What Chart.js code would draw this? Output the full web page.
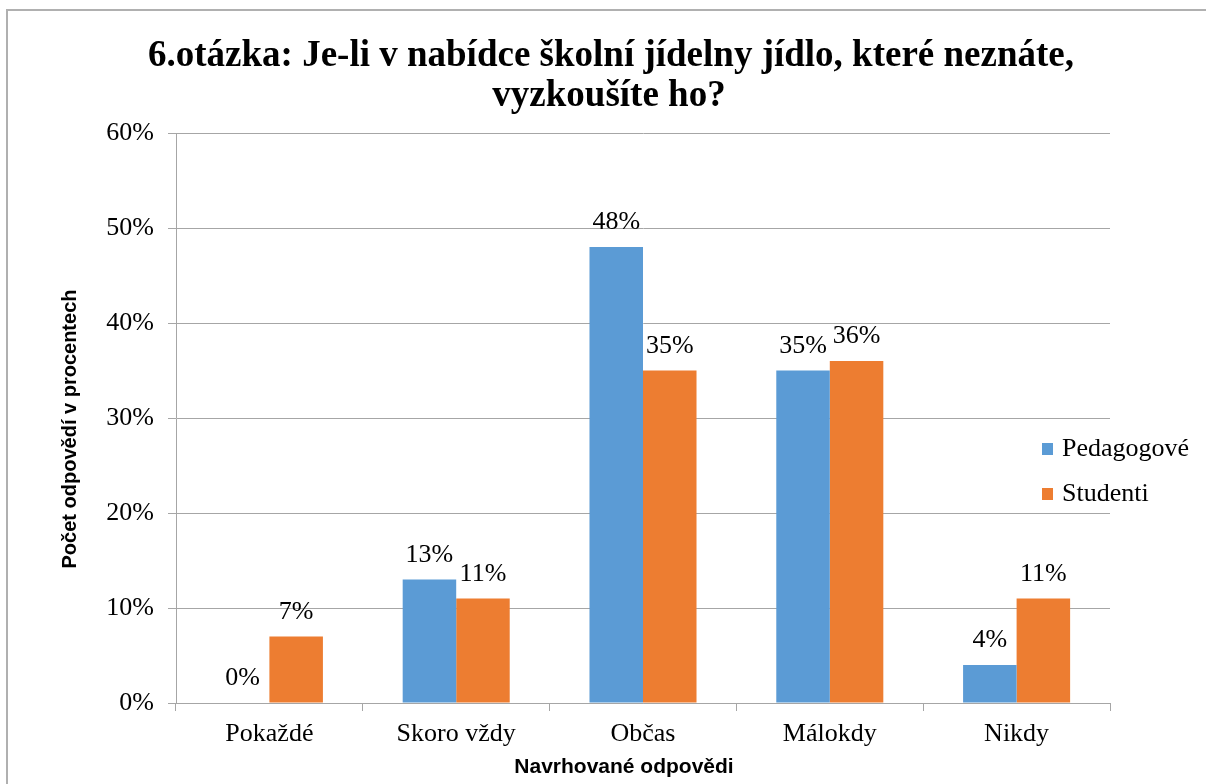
<!DOCTYPE html>
<html>
<head>
<meta charset="utf-8">
<script src="https://cdn.jsdelivr.net/npm/chart.js@4"></script>
<style>
    html, body { margin: 0; padding: 0; background: #fff; overflow: hidden; }
    #frame { position: absolute; left: 6px; top: 9px; width: 1230px; height: 800px; border: 2px solid #b0b0b0; }
    #wrap { position: absolute; left: 0; top: 0; width: 1206px; height: 784px; }
</style>
</head>
<body>
<div id="frame"></div>
<div id="wrap"><canvas id="chart"></canvas></div>
<script>
const categories = ['Pokaždé', 'Skoro vždy', 'Občas', 'Málokdy', 'Nikdy'];
const pedagogove = [0, 13, 48, 35, 4];
const studenti = [7, 11, 35, 36, 11];
const seriesNames = ['Pedagogové', 'Studenti'];
const titleLines = ['6.otázka: Je-li v nabídce školní jídelny jídlo, které neznáte,', 'vyzkoušíte ho?'];
const yTitle = 'Počet odpovědí v procentech';
const xTitle = 'Navrhované odpovědi';

const serif = '"Liberation Serif", "Times New Roman", serif';
const sans = '"Liberation Sans", Arial, sans-serif';
const gridColor = '#a6a6a6';

// title, axis titles, legend and value labels drawn on the canvas
const decorations = {
    id: 'decorations',
    afterDraw(chart) {
        const ctx = chart.ctx;
        ctx.save();
        ctx.fillStyle = '#000';

        ctx.font = 'bold 37px ' + serif;
        ctx.textAlign = 'center';
        ctx.textBaseline = 'alphabetic';
        ctx.fillText(titleLines[0], 611, 66);
        ctx.fillText(titleLines[1], 609, 106);

        ctx.font = 'bold 21px ' + sans;
        ctx.textBaseline = 'middle';
        ctx.fillText(xTitle, 624, 767);
        ctx.font = 'bold 20px ' + sans;
        ctx.save();
        ctx.translate(70, 429);
        ctx.rotate(-Math.PI / 2);
        ctx.fillText(yTitle, 0, 0);
        ctx.restore();

        // value labels
        ctx.font = '26px ' + serif;
        ctx.textBaseline = 'alphabetic';
        chart.data.datasets.forEach((ds, i) => {
            chart.getDatasetMeta(i).data.forEach((bar, j) => {
                ctx.fillText(ds.data[j] + '%', bar.x, bar.y - 18);
            });
        });

        // legend
        ctx.textAlign = 'left';
        ctx.textBaseline = 'middle';
        const legendY = [449, 494];
        chart.data.datasets.forEach((ds, i) => {
            ctx.fillStyle = ds.backgroundColor;
            ctx.fillRect(1042, legendY[i] - 6, 11, 12);
            ctx.fillStyle = '#000';
            ctx.fillText(ds.label, 1062, legendY[i]);
        });
        ctx.restore();
    }
};

new Chart('chart', {
    type: 'bar',
    data: {
        labels: categories,
        datasets: [
            { label: seriesNames[0], data: pedagogove, backgroundColor: '#5b9bd5' },
            { label: seriesNames[1], data: studenti, backgroundColor: '#ed7d31' }
        ]
    },
    options: {
        responsive: true,
        maintainAspectRatio: false,
        animation: false,
        categoryPercentage: 0.573,
        barPercentage: 1,
        layout: { padding: { left: 76, top: 133, right: 96, bottom: 31 } },
        plugins: {
            legend: { display: false },
            title: { display: false },
            tooltip: { enabled: false }
        },
        scales: {
            x: {
                afterFit(scale) { scale.height = 50; },
                grid: { offset: true, drawOnChartArea: false, drawTicks: true, tickLength: 8, color: gridColor },
                border: { color: gridColor },
                ticks: { color: '#000', font: { family: serif, size: 26 }, padding: 8 }
            },
            y: {
                min: 0,
                max: 60,
                afterFit(scale) { scale.width = 100; },
                grid: { color: gridColor, tickLength: 8 },
                border: { color: gridColor },
                ticks: {
                    stepSize: 10,
                    color: '#000',
                    font: { family: serif, size: 26 },
                    padding: 14,
                    callback: v => v + '%'
                }
            }
        }
    },
    plugins: [decorations]
});
</script>
</body>
</html>
